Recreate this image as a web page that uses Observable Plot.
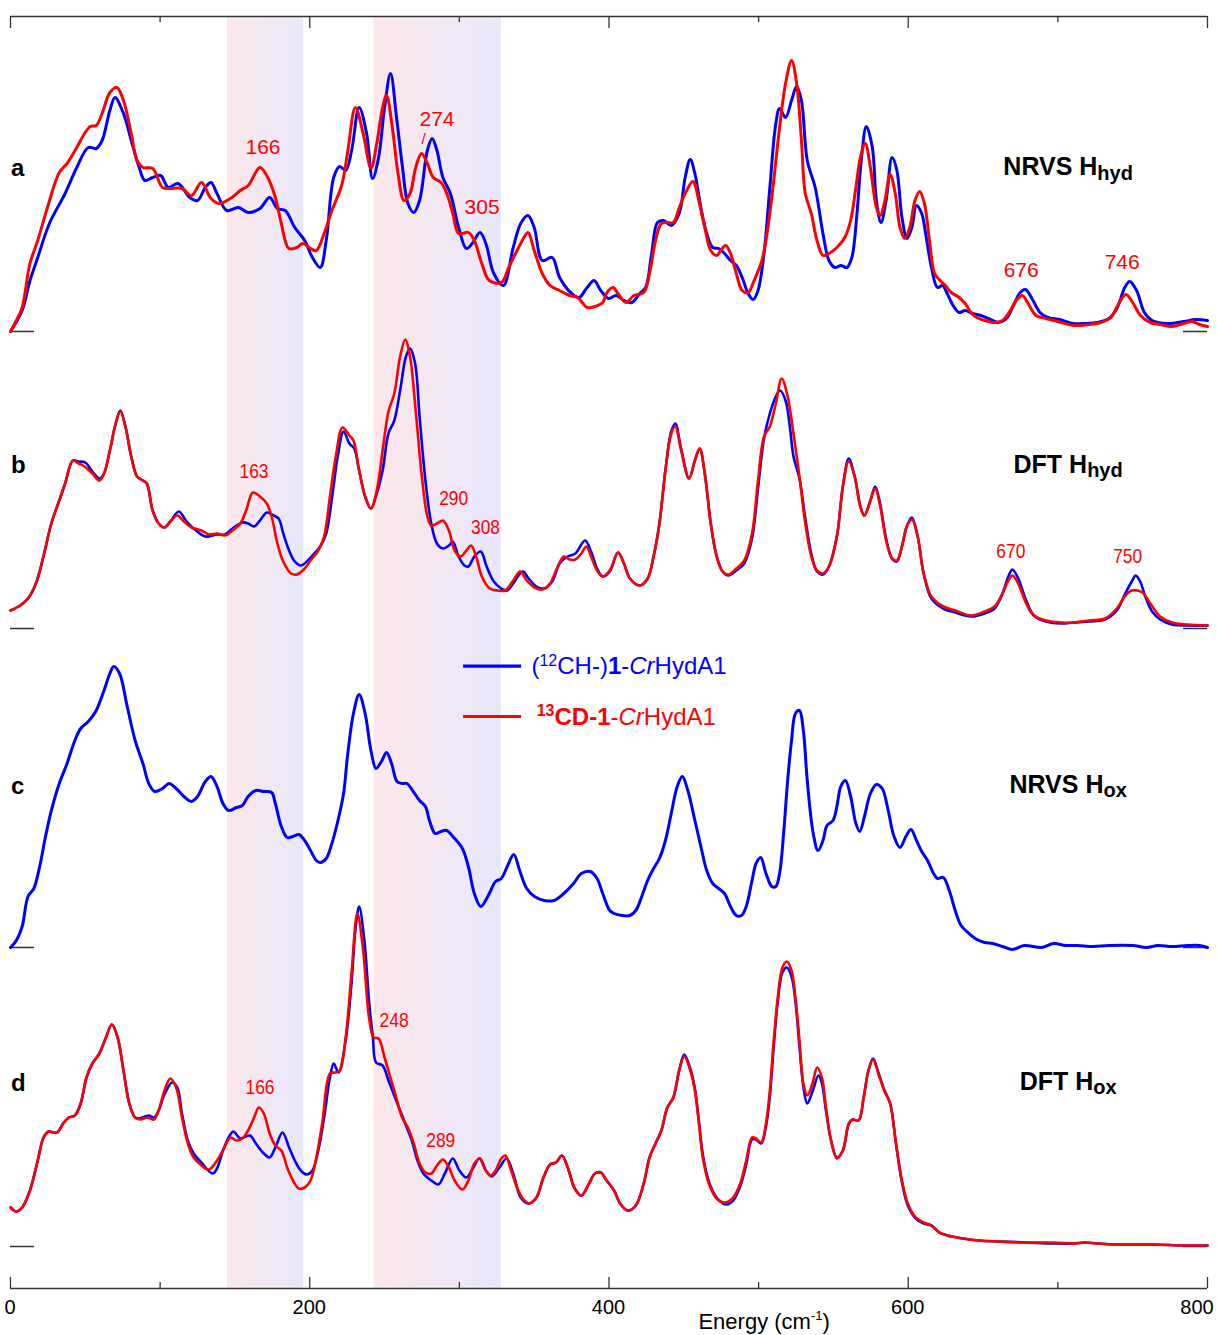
<!DOCTYPE html>
<html><head><meta charset="utf-8">
<script src="https://cdn.jsdelivr.net/npm/d3@7"></script>
<script src="https://cdn.jsdelivr.net/npm/@observablehq/plot@0.6"></script>
<style>body{margin:0;background:#fff} svg{display:block}</style>
</head><body><div id="chart"></div>
<script>
// ---------- data (energy in cm-1, intensity in arbitrary units above each trace baseline) ----------
const energyTicks = [0, 200, 400, 600, 800];
const minorTicks = [100, 300, 500, 700];
const bands = [[145, 196], [243, 328]];

const aBlue = [[0,0],[7.8,21],[13,51],[18.2,74],[26,108],[36.5,138],[44.3,164],[52,184],[57.3,183],[61.2,191],[66.4,221],[69.8,234],[75.5,218],[80.7,191],[86,164],[89.8,151],[95,154],[100.3,156],[105.5,144],[112,148],[119.8,134],[125,131],[130.2,144],[134,149],[138,138],[144.5,121],[152.3,124],[158.8,119],[166.7,123],[173.2,134],[178.4,123],[183.6,121],[190,104],[196.6,91],[201.8,74],[207,64],[211,91],[216,154],[220,165],[224,161],[228,181],[233,224],[238,198],[242,153],[246,174],[250,224],[254,258],[258,214],[262,164],[265.6,128],[269.5,119],[273.4,131],[278.6,181],[281.8,193],[285,181],[289,154],[294,138],[299.5,104],[304.7,83],[308.6,88],[313.8,99],[317.7,88],[323,58],[329.4,46],[336,84],[341,108],[345.8,116],[350,104],[355.4,71],[362,74],[367,54],[375,38],[380,34],[385.4,44],[390,51],[394.5,41],[399.7,33],
[404.7,36],[410,31],[415.3,29],[420.6,38],[424.5,44],[428.5,78],[432.4,109],[436.4,111],[441.6,106],[446.9,118],[450.9,154],[454.3,172],[457.4,158],[461.4,124],[465.3,98],[469.3,84],[473.3,83],[477.2,78],[481.2,71],[485.1,66],[489,54],[493,38],[496.4,32],[499.6,41],[503.6,78],[507.5,144],[511.5,208],[514,223],[518,214],[522,231],[525.4,245],[528.6,231],[532.5,171],[537.8,144],[543,98],[547,71],[551,64],[555,66],[559,64],[562.3,74],[565.5,114],[568.6,171],[572,205],[576,184],[578.7,131],[581.8,109],[585.2,131],[589.2,174],[592.4,161],[595.8,114],[599.2,93],[602.4,104],[605.5,126],[609,118],[611.6,98],[615.5,64],[619.5,44],[623,46],[626,38],[630,26],[634,19],[638,21],[643,18],[648.5,16],[653.7,13],[660,9],[665.6,13],[670.9,28],[674.8,39],[678.3,42],[682.7,33],[688,19],[693.3,14],[701.2,12],[710.4,8],[718.3,8],[726.2,9],[734.1,13],[739.4,23],[744.7,44],[748,50],[752.6,41],[757.8,19],[763,11],[773.6,8],[784.2,10],[792,12],[800,11]];

const aRed = [[0,0],[3.9,11],[7.8,24],[13,68],[18.2,91],[24.7,124],[32.6,159],[37.8,168],[44.3,184],[49.5,198],[53.4,205],[57.3,206],[61.2,218],[66.4,239],[71.1,244],[75.5,231],[80.7,198],[84.6,171],[88.5,164],[95,163],[101.6,144],[106.8,143],[114.6,143],[121,136],[127.6,149],[134,133],[139.3,128],[147,133],[153.6,141],[158.8,146],[166.7,164],[171.9,154],[177,134],[181,108],[186,83],[191.4,84],[195.3,88],[200.5,83],[204.4,81],[209.6,98],[214.8,121],[221.3,146],[225.2,178],[230.5,224],[235.7,198],[240.9,163],[244.8,188],[248.7,224],[251.3,236],[255.2,204],[259,158],[263,131],[267,138],[270.8,164],[274.7,178],[278.6,168],[282.5,154],[287.7,149],[291.6,138],[295.6,118],[299.5,98],[306,99],[310,91],[315,68],[320,51],[328,49],[333,64],[341,88],[345.8,99],[350,81],[355.4,58],[360.6,46],[367,41],[373.7,36],[379,34],[385.4,24],[390.6,25],[395.8,29],
[398.2,38],[402.6,44],[406,38],[411.3,29],[416.6,36],[423.2,39],[427.1,58],[431.1,91],[435,108],[439,109],[443,109],[447,124],[450.9,138],[456.1,150],[460,131],[464,104],[468,81],[472,76],[474.6,81],[478,86],[481.2,78],[485.1,58],[489,41],[493,39],[497,51],[502.2,71],[506.2,104],[510.1,151],[514,204],[518,248],[522,271],[525.4,248],[528.6,191],[531.2,138],[535.2,118],[539,91],[543,76],[547,78],[552.3,84],[557.6,94],[561.5,111],[565,144],[568,174],[571.3,188],[574.7,164],[578.7,124],[581.3,116],[584.4,131],[587.9,157],[591.3,138],[594.5,104],[597.6,93],[601,104],[604.5,131],[607.6,140],[610.8,128],[614.2,91],[617.6,58],[621.3,51],[624.8,46],[628.7,39],[634,34],[638,28],[641.9,19],[645.8,14],[651.1,11],[657.7,9],[663,11],[668.2,21],[672.2,31],[676.1,36],[680.1,28],[685.4,16],[692,13],[699.9,10],[710.4,6],[721,7],[728.8,9],[735.4,14],[740.7,28],[745.5,37],[750,29],[755.2,16],[761.8,9],[768.4,7],[776.3,5],[784.2,8],[789.5,10],[794.8,7],[800,5]];

const bBlue = [[0,18],[6.5,23],[11.7,30],[17,45],[22,72],[27.3,105],[32.6,128],[36.5,145],[41.7,168],[45.6,167],[50,166],[54.7,157],[59.4,150],[62.5,155],[66.4,178],[70.3,205],[73.4,218],[76.8,202],[80.7,172],[84.6,152],[88.5,148],[91.1,145],[95,118],[99,105],[102.9,101],[106.8,107],[112.5,117],[117.2,108],[122.4,100],[130.2,92],[138,94],[143.2,94],[148.4,100],[155,106],[158.8,105],[162.8,102],[166.7,108],[171.3,116],[175.8,113],[179.2,110],[182.3,95],[186.2,78],[190,67],[194,63],[198,67],[201.8,73],[207,82],[211,95],[215,132],[218.7,172],[222.6,197],[226.5,185],[229.7,180],[233,158],[237,132],[240.9,120],[244.8,135],[248.7,158],[252.6,195],[256.5,208],[260.4,238],[264.3,272],[267,280],[270.4,265],[273.4,212],[277.3,148],[281.2,105],[285,85],[289,80],[293,83],[295.6,87],[299.5,72],[303.4,63],[306,62],[310,72],[314.3,77],[318.2,62],[323,47],[328,40],[332,38],[336,45],[342.4,57],[346.3,50],[351.5,42],[356.7,40],[362,47],[367,65],[372.4,72],[377.6,75],[384,88],[388,77],[392,60],[395.8,52],[400.5,57],
[406,76],[410,65],[414,50],[420.6,43],[425.8,50],[429.8,72],[433.7,105],[437.7,158],[441.6,197],[444.3,205],[448.2,180],[453.5,150],[457.4,168],[460.6,180],[464,155],[468,105],[472,72],[475.9,57],[479.8,53],[485.1,58],[490.4,65],[495.6,90],[499.6,140],[503.6,190],[507.5,215],[511.5,232],[514.3,238],[518,228],[521,200],[523.3,172],[527.3,150],[531.2,110],[535.2,75],[539,57],[543,54],[547,62],[552.3,92],[556.3,142],[560.2,170],[564.2,152],[568,122],[570.7,113],[574.7,128],[577.9,142],[581.3,124],[585.2,90],[589.2,70],[592.4,67],[595.8,82],[599,102],[602.4,111],[606.3,92],[610.3,55],[615.5,30],[623.4,20],[631.4,16],[641.9,12],[651.1,15],[657.7,20],[663,35],[666.9,52],[669.6,59],[673.5,50],[678.8,28],[684,13],[692,7],[702.5,5],[710.4,6],[721,7],[731.5,9],[739.4,18],[745,35],[749.4,47],[752,53],[755,47],[758.4,32],[763,17],[768.4,9],[776.3,4],[786.8,3],[800,3]];

const bRed = [[0,18],[6.5,23],[11.7,30],[17,45],[22,72],[27.3,105],[32.6,128],[36.5,145],[41.7,168],[45.6,165],[49.5,162],[54.7,155],[59.4,148],[62.5,155],[66.4,178],[70.3,205],[73.4,217],[76.8,202],[80.7,172],[84.6,152],[88.5,148],[91.1,145],[95,118],[99,105],[102.9,101],[106.8,107],[111.5,113],[115.9,107],[121,101],[127.6,98],[132.8,94],[138,95],[143.2,93],[148.4,98],[153.6,105],[157.5,118],[162,136],[166.7,132],[171.3,125],[174.5,112],[178.4,85],[182.3,67],[187.5,55],[191.4,54],[196.6,60],[200.5,68],[205.7,78],[209.6,92],[213.5,132],[217.4,172],[221.9,201],[226.5,193],[229.2,188],[233,158],[237,132],[240.9,120],[244.8,138],[248.7,178],[252.6,217],[256.5,235],[260.4,272],[263.8,289],[267,272],[270.8,218],[274.7,155],[278.6,112],[281.2,103],[285,105],[289,108],[293,98],[296.8,78],[300.8,72],[304.7,78],[307.8,83],[311.2,72],[315,52],[320.3,40],[325.5,38],[330.7,38],[336,48],[340.6,57],[345,48],[350.2,41],[355.4,39],[360.6,45],[364.6,58],[369.8,72],[373.7,69],[377.6,69],[381.5,75],[384.9,82],[388,72],[392,58],[395.8,52],[400.5,58],
[406,76],[410,65],[414,50],[420.6,43],[425.8,50],[429.8,72],[433.7,105],[437.7,158],[441.6,195],[444.3,202],[448.2,178],[453.5,150],[457.4,168],[460.6,180],[464,155],[468,105],[472,72],[475.9,57],[479.8,54],[485.1,60],[490.4,68],[495.6,95],[499.6,148],[503.6,192],[507.5,202],[511.5,225],[515.4,250],[519.4,232],[523.3,195],[527.3,152],[531.2,105],[535.2,72],[539,58],[543,55],[547,62],[552.3,92],[556.3,142],[560.2,167],[564.2,152],[568,122],[570.7,113],[574.7,128],[577.9,140],[581.3,122],[585.2,88],[589.2,70],[592.4,68],[595.8,82],[599,102],[602.4,109],[606.3,92],[610.3,55],[615.5,32],[623.4,22],[631.4,18],[641.9,13],[651.1,17],[657.7,22],[663,35],[666.9,48],[669.6,53],[673.5,45],[678.8,25],[684,13],[692,8],[702.5,6],[710.4,6],[721,8],[731.5,10],[739.4,20],[744.7,32],[749.4,38],[756.5,36],[761.8,25],[768.4,12],[776.3,6],[786.8,4],[800,3]];

const cBlue = [[0,0],[3.9,7],[7.8,21],[11.7,51],[15.6,59],[19.5,81],[23.4,111],[27.3,137],[32.6,164],[37.8,184],[43,207],[46.9,219],[52,226],[57.3,237],[62.5,257],[66.4,274],[69,281],[72.9,274],[78,241],[83.3,207],[88.5,184],[92.4,164],[96.3,156],[101.6,159],[106,164],[110.7,159],[115.9,151],[121,146],[125,151],[130.2,166],[134,171],[138,161],[142,144],[145.8,137],[151,140],[155,142],[158.8,151],[164,157],[169.3,156],[174.5,155],[177,144],[181,121],[184.9,110],[188.8,111],[192.7,113],[196.6,107],[200.5,97],[204.4,87],[207,85],[211,89],[214.8,104],[218.7,126],[222.6,154],[225.2,191],[229.2,234],[233,253],[237,234],[240.9,197],[244.3,179],[247.9,186],[251.3,195],[254.7,184],[258.3,166],[261.7,164],[265,164],[268.7,157],[273.4,147],[277.3,141],[280,127],[283.8,114],[287.7,116],[291.6,117],[295.6,111],[302,99],[306,81],[310,54],[314.3,41],[319,51],[324.2,66],[328,69],[332,81],[336.4,93],[340.3,77],[345,59],[350.2,51],[356.7,47],[363.3,47],[369.8,54],[376.3,64],[381.5,74],[387.5,76],[392,69],[395.8,54],[400.5,37],
[403.4,34],[408.7,32],[414,32],[417.9,37],[421.9,51],[425.8,67],[429.8,79],[433.7,89],[437.7,107],[441.6,134],[445.6,161],[449,171],[452.7,157],[457.4,127],[461.4,101],[465.3,77],[469.3,64],[473.3,59],[477.2,54],[481.2,41],[485.1,32],[488.5,32],[491.7,41],[495.6,67],[498.3,84],[501.4,90],[504.9,74],[508.8,61],[511.5,61],[514,74],[516.7,114],[519.4,167],[522,207],[524.6,234],[527.3,237],[529.9,217],[532.5,167],[536.5,114],[539.7,97],[543,107],[545.7,122],[549.7,127],[552.3,141],[554.9,161],[558,167],[561.5,151],[565,124],[567.6,116],[570.7,131],[574.7,154],[578.7,163],[582.6,159],[586.6,137],[590.5,111],[594.5,100],[598.4,111],[601.8,118],[605.5,107],[609,96],[612.9,87],[616.9,74],[619.5,69],[623.4,70],[627.4,57],[631.4,37],[635.3,22],[640.6,14],[645.8,8],[651.1,5],[656.4,4],[663,1],[669.6,-2],[677.5,2],[689.3,0],[697.2,4],[705.1,2],[713,2],[723.6,1],[734.1,2],[749.9,2],[759.1,0],[767,2],[776.3,1],[786.8,2],[794.7,2],[800,0]];

const dBlue = [[0,39],[3.9,35],[7.8,39],[13,56],[18.2,86],[22.1,109],[25.5,115],[28.6,114],[31.2,114],[35.2,123],[39,129],[43,131],[46.9,143],[50.8,169],[54.7,183],[59.4,193],[63.8,209],[67.7,222],[71.6,209],[75.5,176],[79.4,143],[83.3,129],[86,128],[92.4,131],[95.8,129],[99,136],[102.9,152],[108,164],[111.5,159],[114.6,133],[118.5,106],[122.4,93],[127.6,84],[135,73],[138,78],[142,96],[145.8,109],[149,115],[153.6,108],[160,111],[164,103],[169.3,93],[173.2,89],[177,99],[181.8,114],[186.2,99],[190,86],[194,76],[198,72],[201.8,76],[205.7,96],[209.6,129],[213.5,169],[216,183],[219.2,174],[224,206],[227.9,263],[230.5,316],[233,340],[236.5,306],[239.6,246],[242.2,209],[244.3,184],[248.7,181],[252.6,166],[257.8,146],[263,126],[268.2,106],[272,86],[276,73],[281.2,66],[285.9,62],[290.3,73],[295.6,88],[300,76],[304.7,69],[309.4,79],[313.3,88],[317.7,76],[321.6,70],[326.8,79],[331.5,88],[336,73],[341,49],[346.3,43],[351.5,49],[356.2,69],[360.6,82],[364.6,84],[368.5,91],[372.4,79],[377.1,58],[381.5,51],[386.7,63],[390.6,73],[394.5,74],[398.4,66],
[403.4,56],[407.4,43],[412.6,36],[417.9,41],[423.2,63],[427.1,89],[431.1,103],[435,116],[439,139],[443,149],[446.9,176],[450.3,192],[454.3,178],[457.4,158],[460.1,125],[462.7,92],[466.7,65],[471.9,49],[478,42],[483,46],[487.7,60],[491.7,82],[495.6,107],[498.3,107],[501.7,103],[504.9,120],[507.5,150],[510.1,200],[512.8,245],[515.9,274],[518.8,279],[522,270],[524.6,245],[527.3,200],[529.9,160],[532.5,143],[536,155],[540,171],[542.3,163],[545,136],[548.4,106],[552.3,89],[556.3,96],[560.2,122],[562.8,127],[566.8,126],[570.2,149],[573.4,176],[576.5,188],[580,174],[583.9,157],[587.9,143],[591.8,103],[595.8,64],[599.7,41],[605,28],[610.3,23],[615.5,21],[620.8,14],[626.1,11],[636.6,8],[647.2,6],[660.3,5],[678.8,4],[697.2,3],[710.4,3],[718.3,4],[726.2,3],[742,2],[763,2],[784.2,1],[800,1]];

const dRed = [[0,39],[3.9,35],[7.8,39],[13,56],[18.2,86],[22.1,109],[25.5,115],[28.6,114],[31.2,114],[35.2,123],[39,129],[43,131],[46.9,143],[50.8,169],[54.7,183],[59.4,193],[63.8,209],[67.7,222],[71.6,209],[75.5,176],[79.4,143],[83.3,129],[87.2,127],[91.1,129],[95.8,127],[99,136],[102.9,156],[106.8,168],[110.7,159],[114.6,129],[118.5,103],[122.4,89],[126.3,83],[130.2,78],[132.8,77],[136.7,83],[142,96],[147,109],[151,106],[155,108],[158.8,116],[162.8,129],[166,139],[169.3,133],[173.2,113],[177,101],[181,96],[184.9,79],[188.8,66],[192.7,58],[196.6,59],[200.5,66],[204.4,89],[208.3,123],[213.5,173],[216.7,174],[220,176],[224,209],[227.9,273],[231.8,333],[235.7,296],[239.6,229],[242.7,209],[246,208],[250,189],[253.9,169],[257.8,149],[261.7,129],[265.6,119],[269.5,103],[273.4,83],[277.3,74],[281.2,73],[285,81],[289,87],[293,79],[296.8,66],[302,57],[306,66],[310,83],[313.8,88],[317.7,76],[320.8,71],[324.2,76],[328,88],[330.7,91],[334.6,76],[338.5,59],[342.4,48],[346.8,43],[351.5,49],[356.2,69],[360.6,82],[364.6,84],[368.5,91],[372.4,79],[377.1,58],[381.5,51],[386.7,63],[390.6,73],[394.5,74],[398.4,66],
[403.4,56],[407.4,43],[412.6,36],[417.9,41],[423.2,63],[427.1,89],[431.1,103],[435,116],[439,139],[443,149],[446.9,176],[450.3,190],[454.3,176],[457.4,156],[460.1,123],[462.7,89],[466.7,63],[471.9,48],[477.2,44],[482.5,48],[487.7,63],[491.7,86],[495.6,109],[498.3,108],[501.7,104],[504.9,123],[507.5,156],[510.1,206],[512.8,249],[515.9,279],[518.8,285],[522,276],[524.6,249],[527.3,206],[529.9,163],[532.5,151],[536,163],[539.1,179],[542.3,169],[545,139],[548.4,106],[552.3,88],[556.3,96],[560.2,123],[562.8,127],[566.8,126],[570.2,149],[573.4,176],[576.5,187],[580,173],[583.9,156],[587.9,143],[591.8,103],[595.8,66],[599.7,43],[605,29],[610.3,24],[615.5,21],[620.8,14],[626.1,11],[636.6,8],[647.2,6],[660.3,5],[678.8,4],[697.2,4],[710.4,3],[718.3,4],[726.2,3],[742,2],[763,2],[784.2,1],[800,1]];

// ---------- layout / style ----------
const FONT = "'Liberation Sans', Arial, Helvetica, sans-serif";
const BLUE = "#0000ff", RED = "#ff0000";
const TOP = 1272;                         // y-domain top (units: intensity stack)
const offsets = {a: 957, b: 660, c: 341, d: 42};   // trace baselines in the stack

const traces = [
  {data: aBlue, off: offsets.a, color: BLUE, w: 3},
  {data: aRed,  off: offsets.a, color: RED,  w: 3},
  {data: bBlue, off: offsets.b, color: BLUE, w: 2.6},
  {data: bRed,  off: offsets.b, color: RED,  w: 2.6},
  {data: cBlue, off: offsets.c, color: BLUE, w: 3},
  {data: dBlue, off: offsets.d, color: BLUE, w: 2.6},
  {data: dRed,  off: offsets.d, color: RED,  w: 2.6}
];

const marks = [
  Plot.rect(bands, {x1: d => d[0], x2: d => d[1], y1: 0, y2: TOP, fill: "url(#bandGrad)"}),
  Plot.ruleY([0, TOP], {stroke: "#333", strokeWidth: 1.5}),
  Plot.ruleX(energyTicks, {y1: 0, y2: 11, stroke: "#333", strokeWidth: 1.3}),
  Plot.ruleX(minorTicks, {y1: 0, y2: 6, stroke: "#333", strokeWidth: 1.3}),
  Plot.ruleX(energyTicks, {y1: TOP - 12, y2: TOP, stroke: "#333", strokeWidth: 1.3}),
  Plot.ruleX(minorTicks, {y1: TOP - 6, y2: TOP, stroke: "#333", strokeWidth: 1.3}),
  Plot.ruleY(Object.values(offsets), {x1: 0, x2: 16, stroke: "#333", strokeWidth: 1.5}),
  Plot.ruleY(Object.values(offsets), {x1: 784, x2: 800, stroke: "#333", strokeWidth: 1.5}),
  ...traces.map(t => Plot.line(t.data, {x: d => d[0], y: d => t.off + d[1], stroke: t.color, strokeWidth: t.w, curve: "catmull-rom"})),
  Plot.ruleY([622.3], {x1: 302.8, x2: 341.6, stroke: BLUE, strokeWidth: 3.2}),
  Plot.ruleY([572], {x1: 302.8, x2: 341.6, stroke: RED, strokeWidth: 3.2})
];

const plot = Plot.plot({
  width: 1217, height: 1335,
  marginLeft: 10, marginRight: 10, marginTop: 16, marginBottom: 47,
  x: {domain: [0, 800], axis: null},
  y: {domain: [0, TOP], axis: null},
  style: {fontFamily: FONT, background: "#fff", overflow: "visible"},
  marks
});
document.getElementById("chart").appendChild(plot);

// gradient for the shaded bands
const svg = d3.select(plot);
const defs = svg.insert("defs", ":first-child");
const lg = defs.append("linearGradient").attr("id", "bandGrad").attr("x1", "0").attr("x2", "1").attr("y1", "0").attr("y2", "0");
lg.append("stop").attr("offset", "0%").attr("stop-color", "#fde7ea");
lg.append("stop").attr("offset", "100%").attr("stop-color", "#e8e8fb");

// ---------- text (positioned through the plot's scales) ----------
const xs = plot.scale("x"), ys = plot.scale("y");
const layer = svg.append("g").attr("font-family", FONT);
function addText(x, y, parts, o = {}) {
  const t = layer.append("text")
    .attr("x", xs.apply(x)).attr("y", ys.apply(y))
    .attr("text-anchor", o.anchor || "start")
    .attr("fill", o.fill || "#000")
    .attr("font-size", o.size || 20)
    .attr("font-weight", o.weight || "normal");
  if (o.dx) t.attr("dx", o.dx);
  if (typeof parts === "string") parts = [{t: parts}];
  for (const p of parts) {
    const s = t.append("tspan").text(p.t);
    if (p.size) s.attr("font-size", p.size);
    if (p.weight) s.attr("font-weight", p.weight);
    if (p.style) s.attr("font-style", p.style);
    if (p.dy) s.attr("dy", p.dy);
  }
  return t;
}

// tick labels
energyTicks.forEach(v => addText(v, -26, String(v), {anchor: "middle", size: 20, dx: v === 800 ? -10 : 0}));
addText(504, -41, [{t: "Energy (cm"}, {t: "-1", size: 13, dy: -9}, {t: ")", dy: 9}], {anchor: "middle", size: 22});

// panel letters
const panelLetters = [["a", 1112], ["b", 815], ["c", 494], ["d", 197]];
panelLetters.forEach(([l, y]) => addText(0, y, l, {size: 24, weight: "bold", dx: 1}));

// panel titles
const titles = [["NRVS H", "hyd", 1113, 5], ["DFT H", "hyd", 815, 4], ["NRVS H", "ox", 495, 4], ["DFT H", "ox", 198, 4]];
titles.forEach(([m, s, y, dy]) => addText(707.2, y, [{t: m}, {t: s, size: 20, dy}], {anchor: "middle", size: 25, weight: "bold"}));

// peak annotations, panel a
const annotA = [["166", 169.1, 1134], ["274", 285.4, 1162], ["305", 315.5, 1074], ["676", 675.8, 1011.3], ["746", 743.3, 1019.3]];
annotA.forEach(([t, x, y]) => addText(x, y, t, {anchor: "middle", size: 21, fill: RED}));
addText(276.4, 1144, "/", {anchor: "middle", size: 15, fill: RED});

// peak annotations, panels b and d (condensed)
const annotBD = [["163", 163.1, 809.7], ["290", 296.5, 783], ["308", 317.8, 754], ["670", 668.9, 729.7], ["750", 747, 725.3],
                 ["248", 256.7, 260.7], ["166", 167.1, 194], ["289", 287.9, 140.7]];
annotBD.forEach(([t, x, y]) => {
  const el = addText(x, y, t, {anchor: "middle", size: 21, fill: RED});
  el.attr("textLength", 29).attr("lengthAdjust", "spacingAndGlyphs");
});

// legend
addText(348.5, 613.7, [{t: "("}, {t: "12", size: 16, dy: -8}, {t: "CH-)", dy: 8}, {t: "1", weight: "bold"}, {t: "-"}, {t: "Cr", style: "italic"}, {t: "HydA1"}], {size: 24, fill: BLUE});
addText(352, 563, [{t: "13", size: 16, dy: -9, weight: "bold"}, {t: "CD-1", dy: 9, weight: "bold"}, {t: "-"}, {t: "Cr", style: "italic"}, {t: "HydA1"}], {size: 24, fill: RED});
</script>
</body></html>
